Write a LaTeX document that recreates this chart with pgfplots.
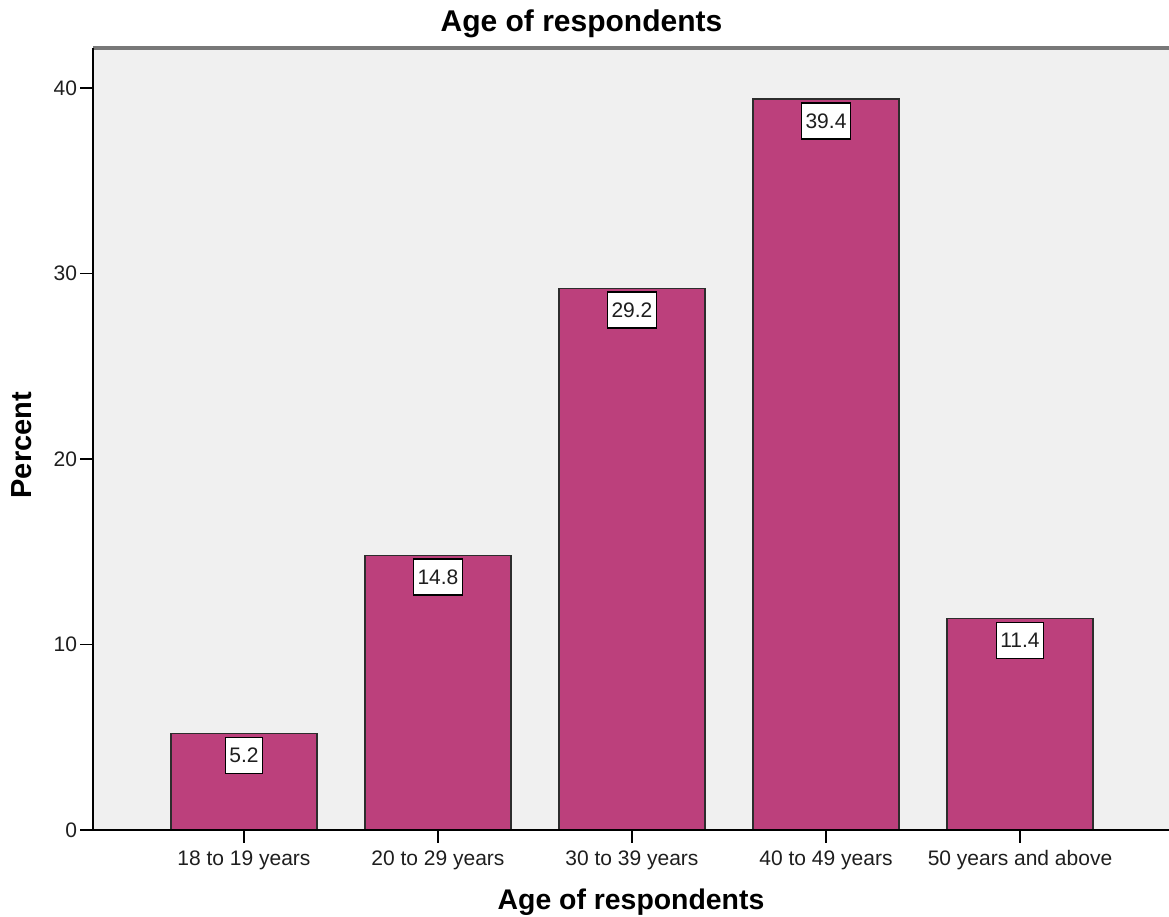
\documentclass[border=0pt]{standalone}
\usepackage{pgfplots}
\pgfplotsset{compat=1.18}
\usepackage{fontspec}
\setmainfont{Liberation Sans}

\definecolor{barfill}{RGB}{188,64,124}
\definecolor{plotbg}{RGB}{240,240,240}
\definecolor{baredge}{RGB}{45,45,45}
\definecolor{topline}{RGB}{120,120,120}
\definecolor{ticktext}{RGB}{30,30,30}

% Percent of respondents by age group
\pgfplotstableread{
x  pct
0  5.2
1  14.8
2  29.2
3  39.4
4  11.4
}\agedata

\begin{document}
\begin{tikzpicture}
\begin{axis}[
  scale only axis,
  width=538pt, height=391pt,
  xmin=-0.778, xmax=4.768,
  ymin=0, ymax=42.16,
  axis line style={draw=none},
  axis background/.style={fill=plotbg},
  xtick={0,1,2,3,4},
  xticklabels={18 to 19 years, 20 to 29 years, 30 to 39 years, 40 to 49 years, 50 years and above},
  ytick={0,10,20,30,40},
  xtick pos=bottom, ytick pos=left,
  tick align=outside,
  major tick length=6.5pt,
  tick style={black, line width=0.8pt},
  /pgf/number format/assume math mode=true,
  ticklabel style={font=\fontsize{10.5}{12}\selectfont, text=ticktext},
  xticklabel style={anchor=base, yshift=-11.5pt},
  yticklabel style={anchor=east, xshift=2pt},
  xlabel={Age of respondents},
  xlabel style={at={(axis description cs:0.5,0)}, anchor=base, yshift=-40pt,
    font=\bfseries\fontsize{14.2}{16}\selectfont},
  ylabel={Percent},
  ylabel style={at={(axis description cs:0,0.492)}, anchor=center, yshift=35.5pt,
    font=\bfseries\fontsize{14.5}{16}\selectfont},
  clip=false,
]
\addplot[ybar, bar width=0.7526, fill=barfill, draw=baredge, line width=0.8pt,
  nodes near coords={\pgfmathprintnumber[fixed,precision=1,fixed zerofill]{\pgfplotspointmeta}},
  nodes near coords style={anchor=north, yshift=-1.5pt, fill=white, draw=black,
    line width=0.7pt, inner sep=2pt, minimum height=18pt, text=ticktext,
    font=\fontsize{10.5}{12}\selectfont,
    /pgf/number format/assume math mode=true},
] table[x=x, y=pct] {\agedata};
\coordinate (bl) at (rel axis cs:0,0);
\coordinate (tr) at (rel axis cs:1,1);
% chart title, centred over the whole chart
\node[anchor=base, yshift=8pt, font=\bfseries\fontsize{15}{17}\selectfont]
  at (axis description cs:0.454,1) {Age of respondents};
\end{axis}
% frame: grey top edge, black left and bottom edges
\draw[topline, line width=1.6pt] (bl |- tr) -- (tr);
\draw[black, line width=1pt] (bl |- tr) -- (bl) -- (bl -| tr);
\pgfresetboundingbox
\path ([xshift=-46.5pt, yshift=-43.5pt]bl) rectangle ([yshift=24pt]tr);
\end{tikzpicture}
\end{document}
